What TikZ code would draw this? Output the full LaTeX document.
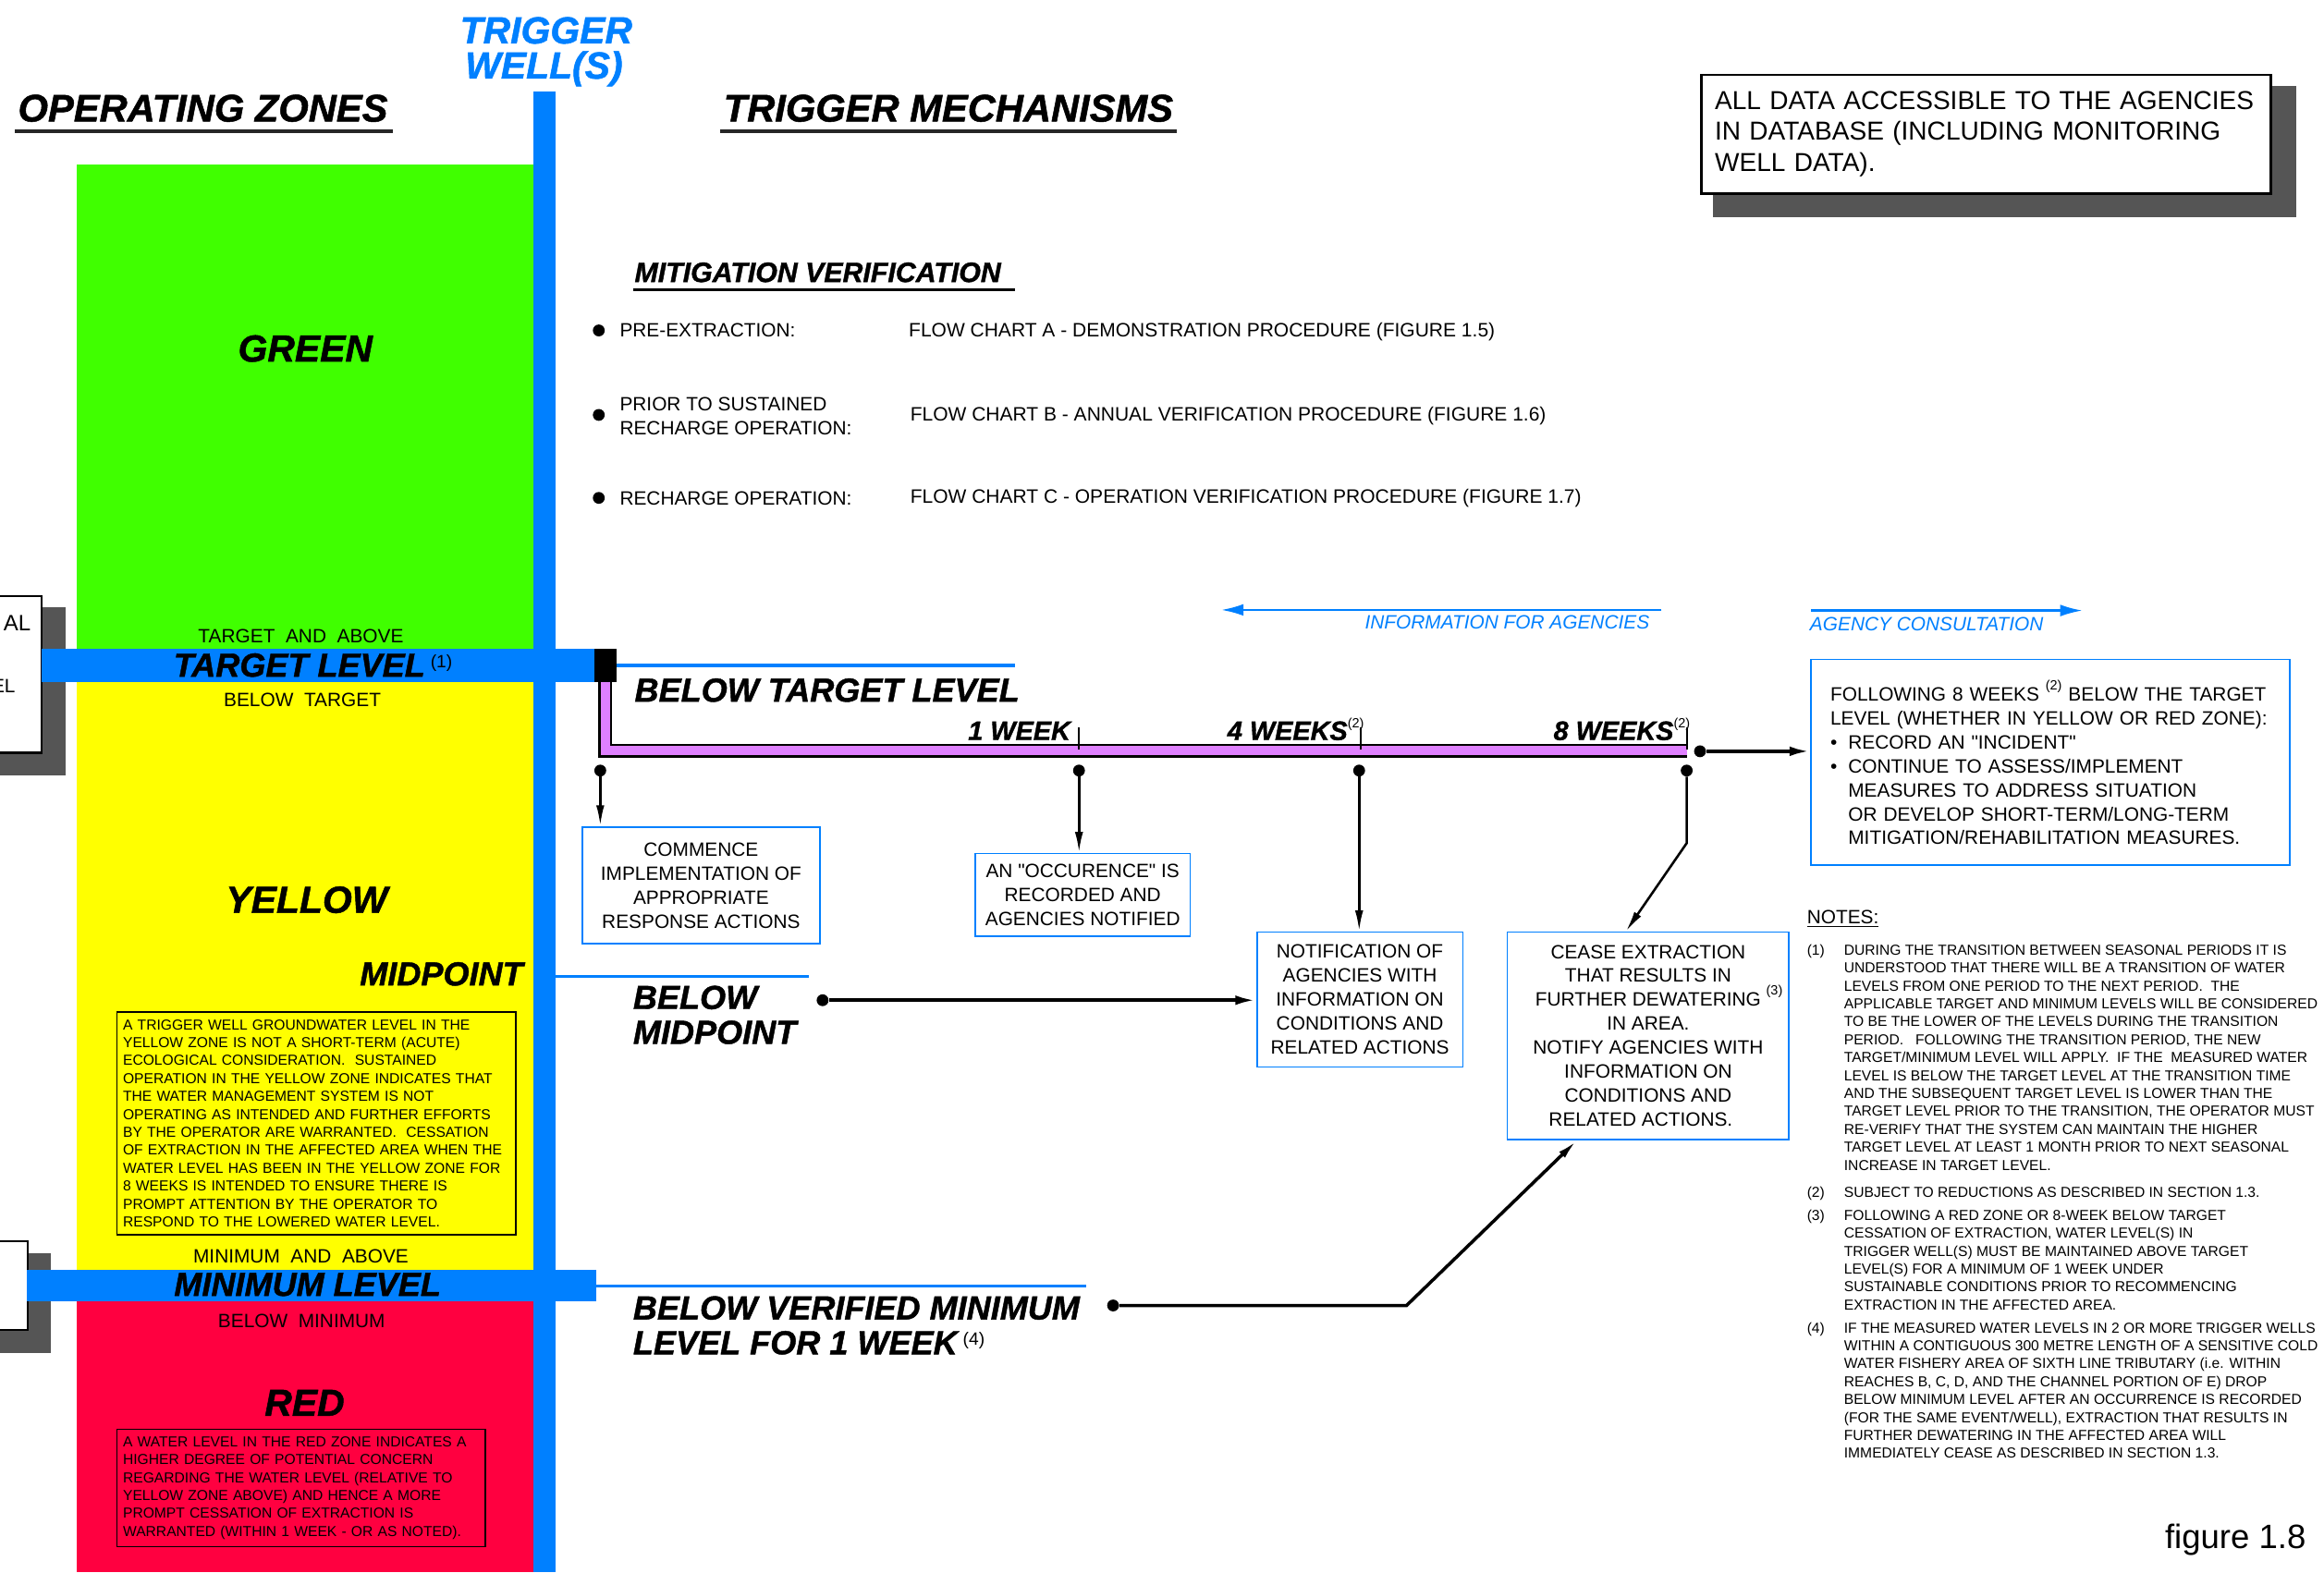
\documentclass[tikz,border=0pt]{standalone}
\usepackage{fontspec}
\setmainfont{Liberation Sans}[Ligatures=TeXOff]
\newfontfamily\heavyfont[FakeBold=1.2]{Liberation Sans Bold Italic}
\usetikzlibrary{arrows.meta}

\definecolor{zonegreen}{HTML}{40FF00}
\definecolor{zoneyellow}{HTML}{FFFF00}
\definecolor{zonered}{HTML}{FF0040}
\definecolor{wellblue}{HTML}{0080FF}
\definecolor{lilac}{HTML}{DF80FF}
\definecolor{shadowgray}{HTML}{555555}

% raised note number: raise, size, number
\newcommand{\supnote}[3]{\raisebox{#1pt}{\normalfont\fontsize{#2}{#2}\selectfont(#3)}}

\begin{document}
\begin{tikzpicture}[x=1pt,y=-1pt,
    heading/.style={font=\fontsize{26}{26}\heavyfont, inner sep=0pt},
    zonename/.style={font=\fontsize{25.5}{26}\heavyfont, inner sep=0pt},
    levelname/.style={font=\fontsize{22.5}{23.5}\heavyfont, inner sep=0pt, align=left},
    weekname/.style={font=\fontsize{18}{18}\heavyfont, inner sep=0pt},
    lbl/.style={font=\fontsize{13}{16.3}\selectfont, inner sep=0pt},
    fine/.style={font=\fontsize{9.75}{12.1}\selectfont, inner sep=0pt, align=left},
    flowbox/.style={draw=wellblue, line width=1.1pt, fill=white, align=center,
        font=\fontsize{13}{16.2}\selectfont, inner sep=0pt},
    notebox/.style={draw=black, line width=1pt, fine, inner xsep=4pt, inner ysep=5pt, anchor=north west},
    databox/.style={draw=black, line width=1.6pt, fill=white, align=left, inner xsep=9pt,
        font=\fontsize{17.5}{20.8}\selectfont},
    blob/.style={circle, fill=black, inner sep=0pt, minimum size=8pt},
    arr/.style={-{Latex[length=14pt,width=5.5pt]}, line width=1.6pt},
    heavyarr/.style={-{Latex[length=14pt,width=6.5pt]}, line width=2.4pt},
    bluearr/.style={wellblue, line width=1.4pt, -{Latex[length=15pt,width=8pt]}},
    bandline/.style={wellblue, line width=2.2pt},
    headrule/.style={line width=2pt, black!85}
]
    \useasboundingbox (0,0) rectangle (1568,1061);

    % cut boxes on the left edge
    \fill[shadowgray] (-10,410) rectangle (44,523);
    \draw[fill=white, line width=1.3pt] (-10,402) rectangle (28,508);
    \node[lbl, font=\fontsize{15}{15}\selectfont, anchor=base east] (cutA) at (21,425.5) {AL};
    \node[lbl, anchor=base east] (cutB) at (10.5,467.5) {EL};
    \fill[shadowgray] (-10,846) rectangle (34,913);
    \draw[fill=white, line width=1.3pt] (-10,837.5) rectangle (18.6,897.5);

    % operating zones
    \fill[zonegreen] (52,111) rectangle (360,438);
    \fill[zoneyellow] (52,460) rectangle (360,857);
    \fill[zonered] (52,878) rectangle (360,1061);

    % trigger well and levels
    \fill[wellblue] (360,62) rectangle (375,1061);
    \fill[wellblue] (28,438) rectangle (402,460);
    \fill[wellblue] (18,857) rectangle (402,878);
    \fill[black] (401,438) rectangle (416,460);
    \draw[bandline] (416,449) -- (685,449);
    \draw[bandline] (375,659) -- (546,659);
    \draw[bandline] (402,868) -- (733,868);

    % headings
    \node[heading, anchor=base west] (opzones) at (12,82) {OPERATING ZONES};
    \node[heading, anchor=base west] (mechs) at (488,82) {TRIGGER MECHANISMS};
    \draw[headrule] (10,88.5) -- (265,88.5);
    \draw[headrule] (486,88.5) -- (794,88.5);
    \node[zonename, text=wellblue, anchor=base] (trig) at (368.5,29.3) {TRIGGER};
    \node[zonename, text=wellblue, anchor=base] (well) at (367,53) {WELL(S)};

    % zone texts
    \node[zonename, anchor=base] (green) at (206,244) {GREEN};
    \node[lbl, anchor=base] (tabove) at (203,434) {TARGET\ \ AND\ \ ABOVE};
    \node[levelname, anchor=base west] (tlevel) at (117,456.6) {TARGET LEVEL\,\supnote{6}{12}{1}};
    \node[lbl, anchor=base] (tbelow) at (204,477) {BELOW\ \ TARGET};
    \node[zonename, anchor=base] (yellow) at (207,616) {YELLOW};
    \node[levelname, anchor=base east] (midpt) at (353,665) {MIDPOINT};
    \node[notebox, text width=261pt] (yellownote) at (78.5,682.6) {A TRIGGER WELL GROUNDWATER LEVEL IN THE\\
        YELLOW ZONE IS NOT A SHORT-TERM (ACUTE)\\
        ECOLOGICAL CONSIDERATION.\ \ SUSTAINED\\
        OPERATION IN THE YELLOW ZONE INDICATES THAT\\
        THE WATER MANAGEMENT SYSTEM IS NOT\\
        OPERATING AS INTENDED AND FURTHER EFFORTS\\
        BY THE OPERATOR ARE WARRANTED.\ \ CESSATION\\
        OF EXTRACTION IN THE AFFECTED AREA WHEN THE\\
        WATER LEVEL HAS BEEN IN THE YELLOW ZONE FOR\\
        8 WEEKS IS INTENDED TO ENSURE THERE IS\\
        PROMPT ATTENTION BY THE OPERATOR TO\\
        RESPOND TO THE LOWERED WATER LEVEL.};
    \node[lbl, anchor=base] (mabove) at (203,852.5) {MINIMUM\ \ AND\ \ ABOVE};
    \node[levelname, anchor=base] (mlevel) at (207.5,874.5) {MINIMUM LEVEL};
    \node[lbl, anchor=base] (mbelow) at (203.5,896) {BELOW\ \ MINIMUM};
    \node[zonename, anchor=base] (red) at (205.5,955.5) {RED};
    \node[notebox, text width=240.5pt] (rednote) at (78.5,964) {A WATER LEVEL IN THE RED ZONE INDICATES A\\
        HIGHER DEGREE OF POTENTIAL CONCERN\\
        REGARDING THE WATER LEVEL (RELATIVE TO\\
        YELLOW ZONE ABOVE) AND HENCE A MORE\\
        PROMPT CESSATION OF EXTRACTION IS\\
        WARRANTED (WITHIN 1 WEEK - OR AS NOTED).};

    % mitigation verification
    \node[heading, font=\fontsize{18.9}{18.9}\heavyfont, anchor=base west] (mitig) at (428,190.3) {MITIGATION VERIFICATION};
    \draw[line width=1.6pt] (427,195.5) -- (685,195.5);
    \node[blob] (b1) at (404,223) {};
    \node[blob] (b2) at (404,280) {};
    \node[blob] (b3) at (404,336) {};
    \node[lbl, anchor=base west] (pre) at (418,227.6) {PRE-EXTRACTION:};
    \node[lbl, anchor=north west, align=left] (prior) at (418,267.9) {PRIOR TO SUSTAINED\\RECHARGE OPERATION:};
    \node[lbl, anchor=base west] (rech) at (418,340.6) {RECHARGE OPERATION:};
    \node[lbl, font=\fontsize{13.1}{13.1}\selectfont, anchor=base west] (fca) at (613,227.6) {FLOW CHART A - DEMONSTRATION PROCEDURE (FIGURE 1.5)};
    \node[lbl, font=\fontsize{13.1}{13.1}\selectfont, anchor=base west] (fcb) at (614,284.1) {FLOW CHART B - ANNUAL VERIFICATION PROCEDURE (FIGURE 1.6)};
    \node[lbl, font=\fontsize{13.1}{13.1}\selectfont, anchor=base west] (fcc) at (614,339.6) {FLOW CHART C - OPERATION VERIFICATION PROCEDURE (FIGURE 1.7)};

    % data box
    \fill[shadowgray] (1156,58) rectangle (1549,146.5);
    \node[databox, minimum width=384pt, minimum height=80pt, text width=366pt] (alldata) at (1340,90.5)
        {ALL DATA ACCESSIBLE TO THE AGENCIES\\IN DATABASE (INCLUDING MONITORING\\WELL DATA).};

    % agencies arrows
    \coordinate (infoA) at (1121,411.6);
    \coordinate (infoB) at (824,411.6);
    \draw[bluearr] (infoA) -- (infoB);
    \node[lbl, font=\fontsize{13}{13}\itshape, text=wellblue, anchor=base east] (info) at (1113,424.6) {INFORMATION FOR AGENCIES};
    \coordinate (consA) at (1222,412);
    \coordinate (consB) at (1405,412);
    \draw[bluearr] (consA) -- (consB);
    \node[lbl, font=\fontsize{13}{13}\itshape, text=wellblue, anchor=base west] (cons) at (1221,425.6) {AGENCY CONSULTATION};

    % below target level timeline
    \node[levelname, anchor=base west] (btl) at (428,473.5) {BELOW TARGET LEVEL};
    \draw[line width=9.4pt] (408.5,460) -- (408.5,506.5) -- (1138,506.5);
    \draw[lilac, line width=6pt] (408.5,460) -- (408.5,506.5) -- (1138,506.5);
    \draw[line width=1.2pt] (728,491) -- (728,506);
    \draw[line width=1.2pt] (918,491) -- (918,506);
    \draw[line width=1.2pt] (1138,491) -- (1138,506);
    \node[weekname, anchor=base west] (wk1) at (653,499.4) {1 WEEK};
    \node[weekname, anchor=base west] (wk4) at (828,499.4) {4 WEEKS\supnote{8}{9}{2}};
    \node[weekname, anchor=base west] (wk8) at (1048,499.4) {8 WEEKS\supnote{8}{9}{2}};

    % actions
    \node[flowbox, minimum width=160pt, minimum height=79pt] (commence) at (473,597.5)
        {COMMENCE\\IMPLEMENTATION OF\\APPROPRIATE\\RESPONSE ACTIONS};
    \node[flowbox, minimum width=145pt, minimum height=56pt] (occur) at (730.5,604)
        {AN "OCCURENCE" IS\\RECORDED AND\\AGENCIES NOTIFIED};
    \node[flowbox, minimum width=139pt, minimum height=91pt] (notify) at (917.5,674.5)
        {NOTIFICATION OF\\AGENCIES WITH\\INFORMATION ON\\CONDITIONS AND\\RELATED ACTIONS};
    \node[flowbox, minimum width=190pt, minimum height=140pt] (cease) at (1112,699)
        {CEASE EXTRACTION\\THAT RESULTS IN\\FURTHER DEWATERING\rlap{\ \supnote{7.5}{9}{3}}\\IN AREA.\\
         NOTIFY AGENCIES WITH\\INFORMATION ON\\CONDITIONS AND\\RELATED ACTIONS.\hspace*{10pt}};
    \node[flowbox, align=left, minimum width=323pt, minimum height=139pt, text width=297pt] (follow) at (1383.5,514.5)
        {FOLLOWING 8 WEEKS \supnote{7.5}{9}{2} BELOW THE TARGET\\
         LEVEL (WHETHER IN YELLOW OR RED ZONE):\\
         \makebox[12pt][l]{\textbullet}RECORD AN "INCIDENT"\\
         \makebox[12pt][l]{\textbullet}CONTINUE TO ASSESS/IMPLEMENT\\
         \hspace*{12pt}MEASURES TO ADDRESS SITUATION\\
         \hspace*{12pt}OR DEVELOP SHORT-TERM/LONG-TERM\\
         \hspace*{12pt}MITIGATION/REHABILITATION MEASURES.};

    % trigger points
    \node[blob] (d0) at (405,520) {};
    \node[blob] (d1) at (728,520) {};
    \node[blob] (d2) at (917,520) {};
    \node[blob] (d3) at (1138,520) {};
    \node[blob] (d4) at (1147,507) {};
    \node[blob] (dmid) at (555,675) {};
    \node[blob] (dmin) at (751,881) {};

    \draw[arr] (d0) -- (d0 |- commence.north);
    \draw[arr] (d1) -- (d1 |- occur.north);
    \draw[arr] (d2) -- (d2 |- notify.north);
    \coordinate (bend8) at (1138,569);
    \draw[arr] (d3) -- (bend8) -- ([xshift=-15pt]cease.north);
    \draw[heavyarr] (d4) -- (d4 -| follow.west);
    \draw[heavyarr] (dmid) -- (dmid -| notify.west);
    \coordinate (bendmin) at (949,881);
    \draw[arr, line width=2.2pt] (dmin) -- (bendmin) -- ([xshift=-48pt]cease.south);

    % below midpoint, below minimum
    \node[levelname, anchor=north west] (bmid) at (427,665) {BELOW\\MIDPOINT};
    \node[levelname, anchor=north west] (bmin) at (427,874.5) {BELOW VERIFIED MINIMUM\\LEVEL FOR 1 WEEK\,\supnote{6}{12}{4}};

    % notes
    \node[lbl, anchor=base west] (noteshd) at (1219,623.6) {\underline{NOTES:}};
    \node[fine, anchor=base west] (n1) at (1219,644.5) {(1)};
    \node[fine, anchor=north west] (n1txt) at (1244,637.4) {DURING THE TRANSITION BETWEEN SEASONAL PERIODS IT IS\\
        UNDERSTOOD THAT THERE WILL BE A TRANSITION OF WATER\\
        LEVELS FROM ONE PERIOD TO THE NEXT PERIOD.\ \ THE\\
        APPLICABLE TARGET AND MINIMUM LEVELS WILL BE CONSIDERED\\
        TO BE THE LOWER OF THE LEVELS DURING THE TRANSITION\\
        PERIOD.\ \ \ FOLLOWING THE TRANSITION PERIOD, THE NEW\\
        TARGET/MINIMUM LEVEL WILL APPLY.\ \ IF THE\ \ MEASURED WATER\\
        LEVEL IS BELOW THE TARGET LEVEL AT THE TRANSITION TIME\\
        AND THE SUBSEQUENT TARGET LEVEL IS LOWER THAN THE\\
        TARGET LEVEL PRIOR TO THE TRANSITION, THE OPERATOR MUST\\
        RE-VERIFY THAT THE SYSTEM CAN MAINTAIN THE HIGHER\\
        TARGET LEVEL AT LEAST 1 MONTH PRIOR TO NEXT SEASONAL\\
        INCREASE IN TARGET LEVEL.};
    \node[fine, anchor=base west] (n2) at (1219,808.2) {(2)};
    \node[fine, anchor=base west] (n2txt) at (1244,808.2) {SUBJECT TO REDUCTIONS AS DESCRIBED IN SECTION 1.3.};
    \node[fine, anchor=base west] (n3) at (1219,823.5) {(3)};
    \node[fine, anchor=north west] (n3txt) at (1244,816.4) {FOLLOWING A RED ZONE OR 8-WEEK BELOW TARGET\\
        CESSATION OF EXTRACTION, WATER LEVEL(S) IN\\
        TRIGGER WELL(S) MUST BE MAINTAINED ABOVE TARGET\\
        LEVEL(S) FOR A MINIMUM OF 1 WEEK UNDER\\
        SUSTAINABLE CONDITIONS PRIOR TO RECOMMENCING\\
        EXTRACTION IN THE AFFECTED AREA.};
    \node[fine, anchor=base west] (n4) at (1219,899.5) {(4)};
    \node[fine, anchor=north west] (n4txt) at (1244,892.4) {IF THE MEASURED WATER LEVELS IN 2 OR MORE TRIGGER WELLS\\
        WITHIN A CONTIGUOUS 300 METRE LENGTH OF A SENSITIVE COLD\\
        WATER FISHERY AREA OF SIXTH LINE TRIBUTARY (i.e. WITHIN\\
        REACHES B, C, D, AND THE CHANNEL PORTION OF E) DROP\\
        BELOW MINIMUM LEVEL AFTER AN OCCURRENCE IS RECORDED\\
        (FOR THE SAME EVENT/WELL), EXTRACTION THAT RESULTS IN\\
        FURTHER DEWATERING IN THE AFFECTED AREA WILL\\
        IMMEDIATELY CEASE AS DESCRIBED IN SECTION 1.3.};

    \node[lbl, font=\fontsize{22.8}{22.8}\selectfont, anchor=base east] (fig) at (1556,1045) {figure 1.8};
\end{tikzpicture}
\end{document}
